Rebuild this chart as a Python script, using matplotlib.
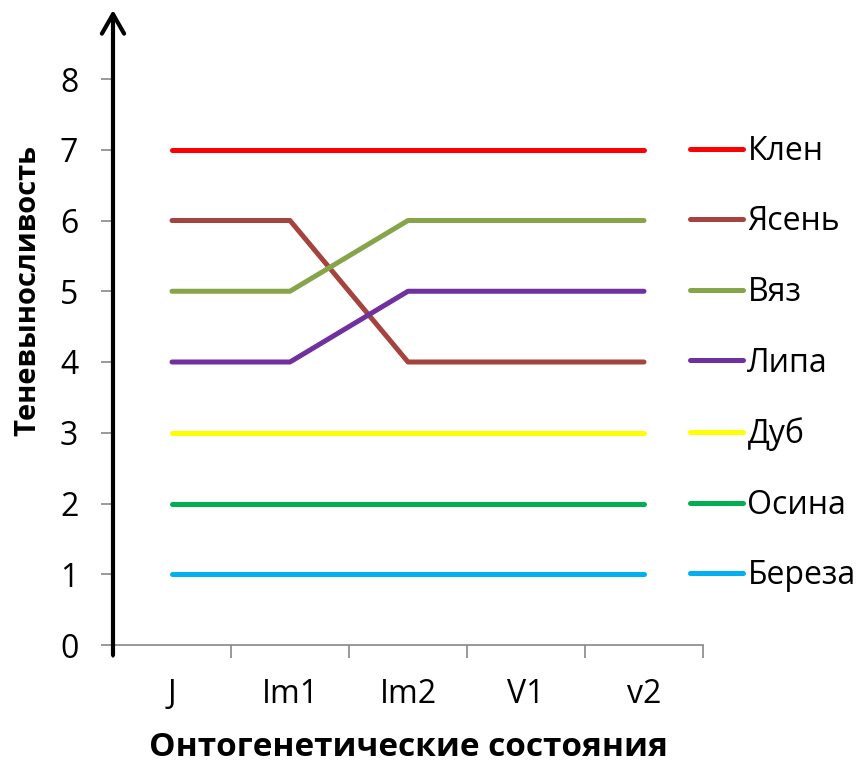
import numpy as np
import matplotlib.pyplot as plt

plt.rcParams['font.family'] = ['Open Sans', 'DejaVu Sans']

stages = ['J', 'Im1', 'Im2', 'V1', 'v2']
species = ['Клен', 'Ясень', 'Вяз', 'Липа', 'Дуб', 'Осина', 'Береза']
klen = [7, 7, 7, 7, 7]
yasen = [6, 6, 4, 4, 4]
vyaz = [5, 5, 6, 6, 6]
lipa = [4, 4, 5, 5, 5]
dub = [3, 3, 3, 3, 3]
osina = [2, 2, 2, 2, 2]
bereza = [1, 1, 1, 1, 1]
series = [klen, yasen, vyaz, lipa, dub, osina, bereza]
colors = ['#FF0000', '#A5443F', '#86A44A', '#7030A0', '#FFFF00', '#00B050', '#00B0F0']

fig = plt.figure(figsize=(8.58, 7.65), dpi=100)
ax = fig.add_axes([113/858, 1 - 645/765, 590/858, 635/765])

x = np.arange(len(stages))
for vals, name, c in zip(series, species, colors):
    ax.plot(x, vals, color=c, lw=3.6, solid_capstyle='round', label=name)

ax.set_xlim(-0.5, len(stages) - 0.5)
ax.set_ylim(0, 8 + 69/70.75)
ax.set_yticks(range(0, 9))
ax.set_xticks(x)
ax.set_xticklabels(stages)
ax.set_xticks(np.arange(-0.5, len(stages)), minor=True)

for s in ['top', 'right', 'left']:
    ax.spines[s].set_visible(False)
ax.spines['bottom'].set_color('#888888')
ax.spines['bottom'].set_linewidth(1.2)

ax.tick_params(axis='x', which='major', length=0, pad=24, labelsize=23)
ax.tick_params(axis='x', which='minor', length=9, width=1.2, color='#888888', direction='out')
ax.tick_params(axis='y', length=9, width=1.2, color='#888888', pad=16, labelsize=23)

# thick vertical axis ending in an open arrow head
ax.annotate('', xy=(0, 1.0), xytext=(0, -0.016), xycoords='axes fraction',
            arrowprops=dict(arrowstyle='->,head_length=1.4,head_width=0.8',
                            mutation_scale=10, lw=3, color='black',
                            shrinkA=0, shrinkB=0))

ax.set_xlabel('Онтогенетические состояния', fontsize=24, fontweight='bold')
ax.xaxis.set_label_coords(0.5, -0.136)
ax.set_ylabel('Теневыносливость', fontsize=21, fontweight='bold')
ax.yaxis.set_label_coords(-0.12, 0.559)

leg = ax.legend(loc='upper left', bbox_to_anchor=(0.957, 0.8237), frameon=False,
                fontsize=23, handlelength=1.66, handletextpad=0.125,
                labelspacing=1.178, borderaxespad=0)

fig.savefig('out.png', dpi=100)
